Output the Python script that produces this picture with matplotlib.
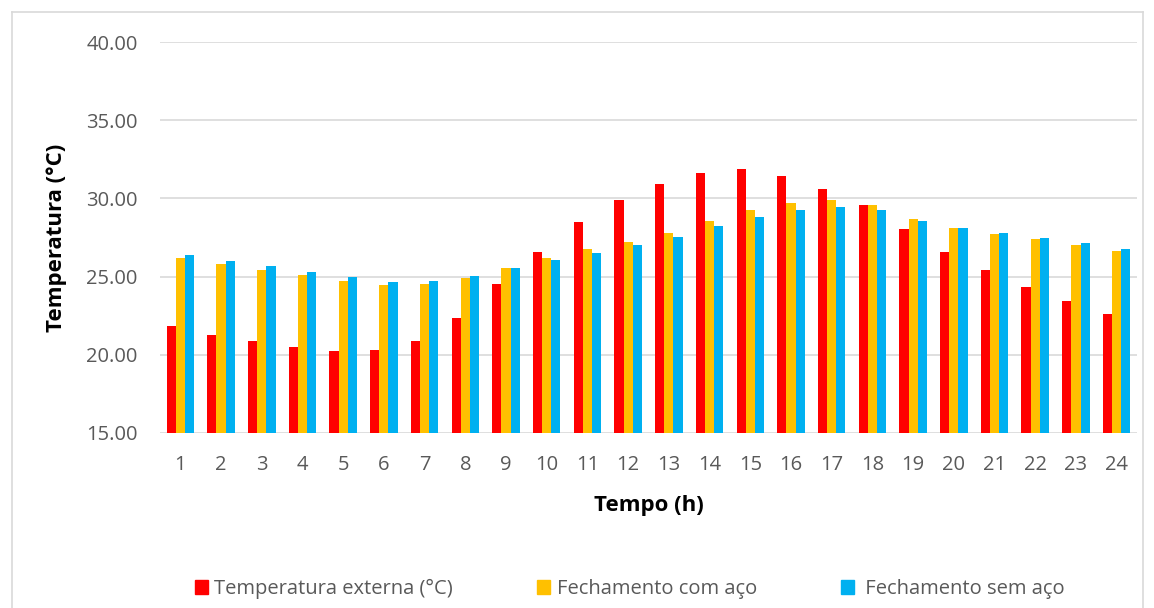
import numpy as np
import matplotlib.pyplot as plt
from matplotlib.lines import Line2D

plt.rcParams['font.family'] = ['Open Sans', 'DejaVu Sans']

hours = [str(h) for h in range(1, 25)]
temp_externa = [21.87, 21.27, 20.89, 20.53, 20.25, 20.30, 20.87, 22.36, 24.51, 26.60, 28.47, 29.87,
                30.91, 31.64, 31.87, 31.46, 30.62, 29.55, 28.06, 26.55, 25.40, 24.36, 23.42, 22.61]
com_aco = [26.21, 25.83, 25.45, 25.08, 24.72, 24.44, 24.53, 24.89, 25.53, 26.17, 26.74, 27.23,
           27.81, 28.57, 29.25, 29.72, 29.87, 29.59, 28.70, 28.08, 27.70, 27.38, 27.00, 26.62]
sem_aco = [26.38, 26.02, 25.68, 25.29, 24.98, 24.68, 24.70, 25.02, 25.53, 26.09, 26.53, 27.00,
           27.51, 28.21, 28.83, 29.25, 29.47, 29.28, 28.57, 28.08, 27.76, 27.49, 27.13, 26.79]

labels = ['Temperatura externa (°C)', 'Fechamento com aço', ' Fechamento sem aço']
colors = ['#FF0000', '#FFC000', '#00B0F0']
text_color = '#595959'

fig = plt.figure(figsize=(11.54, 6.08), dpi=100)
ax = fig.add_axes([160/1154, 1 - 433/608, (1137-160)/1154, (433-42)/608])

x = np.arange(len(hours))
w = 0.225
for i, (vals, c, lab) in enumerate(zip([temp_externa, com_aco, sem_aco], colors, labels)):
    ax.bar(x + (i - 1) * w, np.array(vals) - 15, bottom=15, width=w, color=c, label=lab, zorder=3)

ax.set_ylim(15, 40)
ax.set_yticks(np.arange(15, 41, 5))
ax.set_yticklabels([f'{v:.2f}' for v in np.arange(15, 41, 5)])
ax.set_xlim(-0.5, len(hours) - 0.5)
ax.set_xticks(x)
ax.set_xticklabels(hours)
ax.grid(axis='y', color='#D9D9D9', linewidth=1.2, zorder=0)
for s in ax.spines.values():
    s.set_visible(False)
ax.tick_params(axis='both', length=0, labelsize=14.5, colors=text_color)
ax.tick_params(axis='x', pad=16)
ax.tick_params(axis='y', pad=16)

ax.set_xlabel('Tempo (h)', fontsize=16, fontweight='bold', color='black', labelpad=14)
ax.set_ylabel('Temperatura (°C)', fontsize=16, fontweight='bold', color='black', labelpad=14)

handles = [plt.Rectangle((0, 0), 1, 1, color=c) for c in colors]
fig.legend(handles, labels, loc='center', bbox_to_anchor=(630/1154, 1 - 589/608), ncol=3,
           frameon=False, fontsize=14.5, handlelength=0.65, handleheight=0.75,
           handletextpad=0.3, columnspacing=4.2, labelcolor=text_color)

# outer chart border
fig.add_artist(Line2D([12/1154, 12/1154], [0, 1 - 12/608], color='#D9D9D9', lw=1.2, transform=fig.transFigure))
fig.add_artist(Line2D([12/1154, 1143/1154], [1 - 12/608, 1 - 12/608], color='#D9D9D9', lw=1.2, transform=fig.transFigure))
fig.add_artist(Line2D([1143/1154, 1143/1154], [0, 1 - 12/608], color='#D9D9D9', lw=1.2, transform=fig.transFigure))

fig.savefig('out.png', dpi=100)
